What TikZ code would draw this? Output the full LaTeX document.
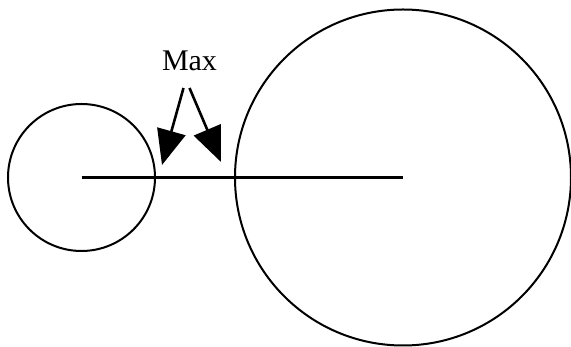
\documentclass[tikz,border=0pt]{standalone}
\usepackage{fontspec}
\setmainfont{Liberation Serif}
\usetikzlibrary{positioning,arrows.meta}

\begin{document}
\begin{tikzpicture}[
  x=1pt, y=1pt,
  wheel/.style={draw, circle, line width=2pt, inner sep=0pt},
  pointer/.style={-{Triangle[length=35pt,width=29pt]}, line width=2.6pt},
  >=Latex
]
\useasboundingbox (0,0) rectangle (571,347);

\node[wheel, minimum size=147pt] (small) at (81.5,169.5) {};
\node[wheel, minimum size=336pt] (big) at (403,169.5) {};
\node[anchor=base, font=\fontsize{30}{32}\selectfont] (max) at (189.5,276) {Max};

\coordinate (tipL) at (162,182);
\coordinate (tipR) at (221,185);

\draw[line width=2.6pt] (small.center) -- (big.center);
\draw[pointer] ([xshift=-6pt,yshift=-17pt]max.base) -- (tipL);
\draw[pointer] ([xshift=0pt,yshift=-17pt]max.base) -- (tipR);
\end{tikzpicture}
\end{document}
